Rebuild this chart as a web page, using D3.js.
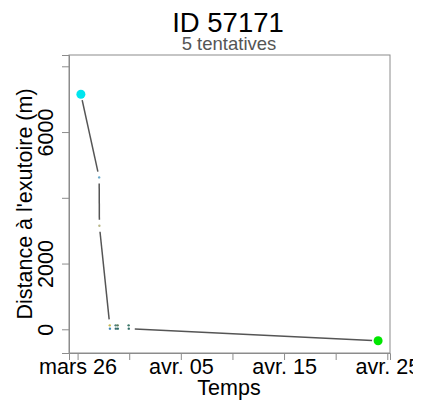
<!DOCTYPE html>
<html>
<head>
<meta charset="utf-8">
<script src="https://cdn.jsdelivr.net/npm/d3@7"></script>
<style>
  html, body { margin: 0; padding: 0; background: #fff; }
  svg { display: block; }
  text { font-family: "Liberation Sans", Arial, sans-serif; }
</style>
</head>
<body>
<svg id="chart" width="425" height="405"></svg>
<script>
// ---- data ----
const times = [
  "2019-03-26T07:40", "2019-03-28T02:10", "2019-03-28T02:40",
  "2019-03-29T02:50", "2019-03-29T03:10",
  "2019-03-29T16:30", "2019-03-29T16:50",
  "2019-03-29T21:10", "2019-03-29T21:30",
  "2019-03-30T22:40", "2019-03-30T23:00",
  "2019-04-24T02:40"
];
const distances = [7150, 4620, 3150, 120, 20, 120, 20, 120, 20, 120, 20, -347];
const pointColors = ["#00e5ee", "#6aa9c9", "#b9b88a", "#c9b94f", "#3f86b3", "#4d7f7a", "#3a6a70",
                     "#5b7d5c", "#2f6f6a", "#3b7767", "#2f6d66", "#00e600"];
const xTickDates = ["2019-03-26", "2019-03-31", "2019-04-05", "2019-04-10", "2019-04-15", "2019-04-20", "2019-04-25"];
const xLabelDates = ["2019-03-26", "2019-04-05", "2019-04-15", "2019-04-25"];
const yTicks = [0, 2000, 4000, 6000, 8000];
const yLabels = [0, 2000, 6000];
const yLimits = [-721, 8344];
const titleText = "ID 57171";
const subtitleText = "5 tentatives";
const xTitle = "Temps";
const yTitle = "Distance à l'exutoire (m)";

(function () {
// ---- setup ----
const fr = d3.timeFormatLocale({
  dateTime: "%A %e %B %Y à %X", date: "%d/%m/%Y", time: "%H:%M:%S",
  periods: ["AM", "PM"],
  days: ["dimanche","lundi","mardi","mercredi","jeudi","vendredi","samedi"],
  shortDays: ["dim.","lun.","mar.","mer.","jeu.","ven.","sam."],
  months: ["janvier","février","mars","avril","mai","juin","juillet","août","septembre","octobre","novembre","décembre"],
  shortMonths: ["janv.","févr.","mars","avr.","mai","juin","juil.","août","sept.","oct.","nov.","déc."]
});
const fmt = fr.utcFormat("%b %d");
const parseT = d3.utcParse("%Y-%m-%dT%H:%M");
const parseD = d3.utcParse("%Y-%m-%d");

const data = times.map((t, i) => ({ t: parseT(t), v: distances[i], c: pointColors[i] }));

const pl = 69, pr = 390, pt = 55, pb = 353;
const ext = d3.extent(data, d => d.t);
const pad = (ext[1] - ext[0]) * 0.04;
const x = d3.scaleUtc().domain([new Date(+ext[0] - pad), new Date(+ext[1] + pad)]).range([pl, pr]);
const y = d3.scaleLinear().domain(yLimits).range([pb, pt]);

const svg = d3.select("#chart");
svg.append("rect").attr("width", 425).attr("height", 405).attr("fill", "#fff");
svg.append("defs").append("clipPath").attr("id", "figclip")
  .append("rect").attr("x", 0).attr("y", 0).attr("width", 413).attr("height", 405);

// titles
svg.append("text").attr("x", 228).attr("y", 32).attr("text-anchor", "middle")
  .attr("font-size", 27.5).attr("fill", "#000").text(titleText);
svg.append("text").attr("x", 229).attr("y", 50).attr("text-anchor", "middle")
  .attr("font-size", 18.5).attr("fill", "#555").text(subtitleText);

// box
svg.append("rect").attr("x", pl).attr("y", pt).attr("width", pr - pl).attr("height", pb - pt)
  .attr("fill", "none").attr("stroke", "#8c8c8c").attr("stroke-width", 1);

// x axis
const xTicks = xTickDates.map(parseD);
const xLab = new Set(xLabelDates);
const xAxis = d3.axisBottom(x).tickValues(xTicks).tickSize(7).tickPadding(3)
  .tickFormat((d, i) => xLab.has(xTickDates[i]) ? fmt(d) : "");
const gx = svg.append("g").attr("clip-path", "url(#figclip)")
  .append("g").attr("transform", `translate(0,${pb})`).call(xAxis);
gx.select(".domain").attr("stroke", "#8c8c8c");
gx.selectAll(".tick line").attr("stroke", "#8c8c8c");
gx.selectAll(".tick text").attr("font-size", 21.6).attr("fill", "#000")
  .attr("font-family", "Liberation Sans, Arial, sans-serif").attr("dy", null).attr("y", 21);

// y axis
const yLab = new Set(yLabels);
const yAxis = d3.axisLeft(y).tickValues(yTicks).tickSize(7)
  .tickFormat(d => yLab.has(d) ? String(d) : "");
const gy = svg.append("g").attr("transform", `translate(${pl},0)`).call(yAxis);
gy.select(".domain").attr("stroke", "#8c8c8c");
gy.selectAll(".tick line").attr("stroke", "#8c8c8c");
gy.selectAll(".tick text").attr("font-size", 21.5).attr("fill", "#000")
  .attr("font-family", "Liberation Sans, Arial, sans-serif")
  .attr("x", null).attr("dy", null).attr("text-anchor", "middle")
  .attr("transform", "translate(-16,0) rotate(-90)");

// axis titles
svg.append("text").attr("x", 229).attr("y", 395).attr("text-anchor", "middle")
  .attr("font-size", 21.5).attr("fill", "#000").text(xTitle);
svg.append("text").attr("transform", `translate(32,${(pt + pb) / 2}) rotate(-90)`)
  .attr("text-anchor", "middle").attr("font-size", 21.5).attr("fill", "#000").text(yTitle);

// line with gaps around points (type "b")
const gap = 6;
const segs = [];
for (let i = 0; i < data.length - 1; i++) {
  const x1 = x(data[i].t), y1 = y(data[i].v), x2 = x(data[i + 1].t), y2 = y(data[i + 1].v);
  const dx = x2 - x1, dy = y2 - y1, d = Math.hypot(dx, dy);
  if (d > 2 * gap) {
    const ux = dx / d, uy = dy / d;
    segs.push([x1 + ux * gap, y1 + uy * gap, x2 - ux * gap, y2 - uy * gap]);
  }
}
svg.append("g").selectAll("line").data(segs).join("line")
  .attr("x1", d => d[0]).attr("y1", d => d[1]).attr("x2", d => d[2]).attr("y2", d => d[3])
  .attr("stroke", "#555").attr("stroke-width", 1.5);

// points
const n = data.length;
svg.append("g").selectAll("circle").data(data).join("circle")
  .attr("cx", d => x(d.t)).attr("cy", d => y(d.v))
  .attr("r", (d, i) => (i === 0 || i === n - 1) ? 4.5 : 1.2)
  .attr("fill", d => d.c);
})();
</script>
</body>
</html>
